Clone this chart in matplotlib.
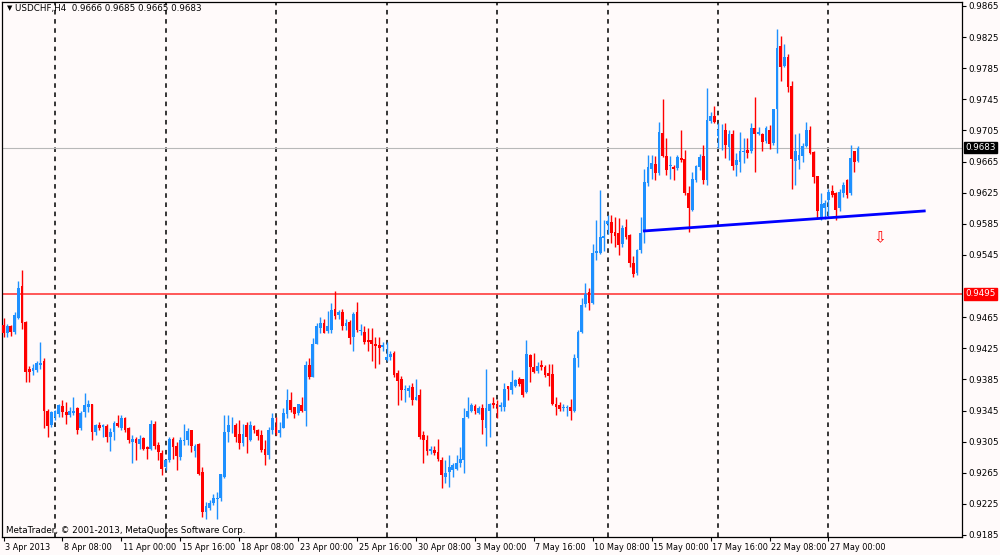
import matplotlib
matplotlib.use("Agg")
import matplotlib.pyplot as plt
import matplotlib.transforms as mtransforms
import numpy as np

# USDCHF H4, precios en pips (x 0.0001)
apertura = [
    9455, 9445, 9453, 9446, 9464, 9505, 9459, 9398, 9396, 9397, 9404, 9408, 9345, 9326, 9337, 9341,
    9351, 9343, 9339, 9342, 9348, 9322, 9343, 9350, 9353, 9318, 9326, 9324, 9325, 9311, 9317, 9329,
    9322, 9335, 9322, 9305, 9309, 9302, 9310, 9298, 9296, 9328, 9301, 9290, 9272, 9281, 9308, 9300,
    9285, 9306, 9307, 9320, 9293, 9302, 9266, 9215, 9220, 9226, 9231, 9232, 9259, 9318, 9326, 9327,
    9315, 9303, 9327, 9307, 9325, 9320, 9313, 9295, 9288, 9320, 9324, 9316, 9322, 9341, 9359, 9349,
    9342, 9352, 9345, 9403, 9388, 9431, 9451, 9457, 9447, 9449, 9475, 9468, 9472, 9453, 9459, 9440,
    9471, 9447, 9446, 9436, 9435, 9430, 9429, 9427, 9410, 9414, 9419, 9393, 9386, 9371, 9370, 9375,
    9359, 9365, 9313, 9307, 9293, 9294, 9292, 9282, 9259, 9266, 9268, 9270, 9277, 9282, 9337, 9345,
    9351, 9342, 9348, 9322, 9345, 9355, 9352, 9350, 9350, 9376, 9371, 9377, 9385, 9385, 9369, 9416,
    9401, 9396, 9404, 9401, 9393, 9392, 9353, 9352, 9348, 9348, 9350, 9345, 9412, 9446, 9482, 9497,
    9483, 9547, 9548, 9567, 9585, 9587, 9575, 9573, 9559, 9581, 9570, 9535, 9522, 9551, 9575, 9637,
    9656, 9662, 9650, 9702, 9672, 9659, 9658, 9657, 9670, 9668, 9624, 9603, 9641, 9658, 9672, 9641,
    9717, 9724, 9698, 9705, 9706, 9684, 9701, 9661, 9665, 9677, 9680, 9678, 9708, 9701, 9701, 9692,
    9706, 9689, 9732, 9813, 9788, 9800, 9762, 9666, 9667, 9672, 9685, 9705, 9677, 9647, 9594, 9605,
    9615, 9627, 9625, 9605, 9625, 9641, 9624, 9679, 9666,
]
maximo = [
    9464, 9456, 9455, 9472, 9511, 9526, 9460, 9402, 9405, 9408, 9433, 9412, 9347, 9345, 9346, 9354,
    9358, 9356, 9350, 9363, 9350, 9345, 9367, 9358, 9354, 9328, 9330, 9328, 9328, 9322, 9332, 9339,
    9339, 9337, 9324, 9313, 9311, 9313, 9311, 9300, 9333, 9331, 9305, 9294, 9283, 9311, 9311, 9305,
    9311, 9328, 9322, 9320, 9302, 9303, 9272, 9228, 9230, 9238, 9240, 9264, 9339, 9339, 9337, 9329,
    9333, 9328, 9330, 9331, 9327, 9321, 9320, 9307, 9324, 9342, 9337, 9330, 9348, 9373, 9369, 9350,
    9354, 9363, 9408, 9413, 9438, 9457, 9465, 9463, 9473, 9483, 9499, 9474, 9476, 9463, 9461, 9472,
    9484, 9456, 9454, 9451, 9451, 9440, 9440, 9433, 9433, 9421, 9421, 9397, 9389, 9378, 9378, 9380,
    9385, 9372, 9319, 9313, 9299, 9300, 9309, 9285, 9281, 9288, 9278, 9288, 9298, 9348, 9363, 9355,
    9353, 9351, 9354, 9398, 9355, 9362, 9358, 9356, 9380, 9377, 9397, 9386, 9388, 9386, 9435, 9418,
    9419, 9407, 9410, 9403, 9405, 9405, 9362, 9356, 9354, 9352, 9360, 9418, 9448, 9489, 9509, 9502,
    9559, 9590, 9629, 9590, 9596, 9596, 9594, 9592, 9583, 9591, 9572, 9543, 9553, 9594, 9656, 9673,
    9673, 9672, 9716, 9746, 9695, 9672, 9661, 9673, 9706, 9680, 9633, 9652, 9661, 9675, 9686, 9759,
    9729, 9736, 9715, 9713, 9715, 9705, 9706, 9676, 9703, 9695, 9695, 9714, 9748, 9710, 9702, 9711,
    9712, 9733, 9836, 9826, 9816, 9803, 9769, 9701, 9702, 9689, 9716, 9711, 9679, 9647, 9624, 9615,
    9630, 9635, 9626, 9630, 9639, 9643, 9686, 9679, 9685,
]
minimo = [
    9439, 9440, 9441, 9443, 9462, 9450, 9381, 9382, 9390, 9395, 9398, 9322, 9311, 9324, 9333, 9337,
    9337, 9328, 9337, 9339, 9315, 9320, 9337, 9343, 9307, 9314, 9320, 9311, 9305, 9293, 9307, 9324,
    9320, 9318, 9303, 9277, 9281, 9296, 9294, 9283, 9294, 9296, 9281, 9262, 9268, 9279, 9283, 9268,
    9281, 9301, 9301, 9292, 9285, 9262, 9208, 9206, 9217, 9223, 9206, 9229, 9258, 9305, 9316, 9305,
    9296, 9300, 9290, 9306, 9316, 9307, 9292, 9275, 9283, 9315, 9313, 9311, 9322, 9336, 9343, 9336,
    9339, 9343, 9325, 9386, 9388, 9430, 9444, 9444, 9444, 9444, 9462, 9462, 9448, 9449, 9431, 9421,
    9446, 9442, 9431, 9421, 9408, 9400, 9405, 9421, 9408, 9410, 9388, 9352, 9358, 9356, 9363, 9352,
    9358, 9309, 9277, 9288, 9289, 9288, 9280, 9245, 9252, 9247, 9260, 9268, 9273, 9265, 9336, 9343,
    9341, 9340, 9315, 9300, 9311, 9348, 9336, 9345, 9345, 9358, 9366, 9375, 9376, 9363, 9367, 9382,
    9393, 9393, 9397, 9388, 9377, 9352, 9339, 9345, 9345, 9338, 9333, 9343, 9401, 9444, 9478, 9474,
    9482, 9538, 9546, 9550, 9572, 9560, 9555, 9545, 9555, 9565, 9530, 9517, 9519, 9547, 9560, 9633,
    9643, 9641, 9648, 9671, 9648, 9643, 9641, 9654, 9665, 9622, 9575, 9602, 9639, 9654, 9636, 9635,
    9714, 9714, 9682, 9680, 9669, 9667, 9654, 9646, 9652, 9663, 9669, 9676, 9652, 9699, 9678, 9689,
    9681, 9686, 9676, 9768, 9786, 9755, 9630, 9635, 9656, 9665, 9684, 9675, 9637, 9593, 9590, 9591,
    9592, 9620, 9590, 9602, 9620, 9618, 9622, 9652, 9665,
]
cierre = [
    9445, 9453, 9446, 9468, 9502, 9457, 9395, 9395, 9399, 9406, 9406, 9345, 9325, 9343, 9344, 9352,
    9343, 9339, 9344, 9345, 9320, 9342, 9352, 9353, 9318, 9326, 9322, 9326, 9311, 9317, 9329, 9325,
    9335, 9320, 9307, 9309, 9303, 9309, 9295, 9295, 9328, 9300, 9292, 9270, 9281, 9309, 9298, 9287,
    9307, 9307, 9319, 9300, 9300, 9264, 9215, 9222, 9226, 9232, 9233, 9263, 9318, 9326, 9327, 9311,
    9303, 9315, 9311, 9326, 9320, 9312, 9294, 9288, 9320, 9336, 9316, 9320, 9342, 9359, 9346, 9341,
    9353, 9345, 9403, 9388, 9431, 9453, 9457, 9445, 9453, 9474, 9466, 9472, 9453, 9458, 9438, 9469,
    9448, 9449, 9433, 9433, 9430, 9428, 9425, 9429, 9414, 9418, 9391, 9383, 9371, 9372, 9374, 9358,
    9363, 9311, 9307, 9293, 9295, 9291, 9283, 9262, 9265, 9273, 9275, 9277, 9283, 9336, 9345, 9352,
    9345, 9348, 9333, 9348, 9353, 9352, 9350, 9352, 9373, 9372, 9382, 9384, 9379, 9365, 9418, 9401,
    9395, 9402, 9401, 9390, 9389, 9353, 9350, 9347, 9349, 9350, 9345, 9412, 9446, 9481, 9495, 9483,
    9548, 9550, 9568, 9569, 9588, 9573, 9569, 9558, 9579, 9568, 9535, 9521, 9551, 9573, 9639, 9658,
    9663, 9650, 9703, 9672, 9654, 9660, 9655, 9671, 9667, 9624, 9605, 9643, 9659, 9671, 9641, 9719,
    9724, 9716, 9706, 9706, 9686, 9701, 9659, 9667, 9678, 9679, 9676, 9708, 9700, 9703, 9690, 9708,
    9688, 9732, 9811, 9787, 9800, 9761, 9668, 9679, 9673, 9685, 9706, 9676, 9645, 9602, 9611, 9612,
    9626, 9622, 9603, 9626, 9635, 9622, 9670, 9665, 9683,
]

etiquetas_x = ["3 Apr 2013", "8 Apr 08:00", "11 Apr 00:00", "15 Apr 16:00", "18 Apr 08:00",
               "23 Apr 00:00", "25 Apr 16:00", "30 Apr 08:00", "3 May 00:00", "7 May 16:00",
               "10 May 08:00", "15 May 00:00", "17 May 16:00", "22 May 08:00", "27 May 00:00"]
barras_etiqueta = [0, 16, 32, 48, 64, 80, 96, 112, 128, 144, 160, 176, 192, 208, 224]
separadores = [14, 44, 74, 104, 134, 164, 194, 224]   # lunes 00:00
precios_y = [9865, 9825, 9785, 9745, 9705, 9665, 9625, 9585, 9545, 9465,
             9425, 9385, 9345, 9305, 9265, 9225, 9185]
nivel_rojo = 9495
precio_actual = 9683
tendencia_barras = [174, 250]
tendencia_precios = [9575.8, 9601.5]
flecha = (238, 9567)

o = np.array(apertura) / 10000
h = np.array(maximo) / 10000
l = np.array(minimo) / 10000
c = np.array(cierre) / 10000
x = np.arange(len(o))

azul = "#1e90ff"
rojo = "#ff0000"
fondo = "#fffafa"

fig = plt.figure(figsize=(10, 5.55), dpi=100, facecolor=fondo)
ax = fig.add_axes([0.002, 1 - 537 / 555, 0.960, 535 / 555])
ax.set_facecolor(fondo)

sube = c >= o
colores = np.where(sube, azul, rojo)

# separadores de periodo
for s in separadores:
    ax.axvline(s, color="black", lw=1.1, ls=(0, (3, 3)), zorder=1)

ax.axhline(nivel_rojo / 10000, color="#ff4a4a", lw=1.3, zorder=2)
ax.axhline(precio_actual / 10000, color="#b8b8b8", lw=0.8, zorder=2)

# velas
ax.vlines(x, l, h, colors=colores, lw=1.0, zorder=3)
alto = np.maximum(np.abs(c - o), 0.00008)
ax.bar(x, alto, bottom=np.minimum(o, c), width=0.75, color=colores, lw=0, zorder=4)

# linea de tendencia
ax.plot(tendencia_barras, np.array(tendencia_precios) / 10000, color="#0000ff", lw=2.0, zorder=5)

ax.text(flecha[0], flecha[1] / 10000, "\u21e9", color=rojo, fontsize=11, ha="center", va="center",
        family="DejaVu Sans", zorder=6)

ax.set_xlim(-0.41, 260.25)
ax.set_ylim(0.91824, 0.98701)

ax.yaxis.tick_right()
ax.set_yticks(np.array(precios_y) / 10000)
ax.set_yticklabels(["%.4f" % (p / 10000) for p in precios_y])
ax.set_xticks(barras_etiqueta)
ax.set_xticklabels(etiquetas_x, ha="left")
ax.tick_params(axis="y", direction="out", length=3, width=0.8, labelsize=6.3, colors="black", pad=1.5)
ax.tick_params(axis="x", direction="out", length=3, width=0.8, labelsize=5.9, colors="black", pad=1.5)
desplazar = mtransforms.ScaledTranslation(1.5 / 100, 0, fig.dpi_scale_trans)
for lab in ax.get_xticklabels():
    lab.set_transform(lab.get_transform() + desplazar)
for sp in ax.spines.values():
    sp.set_color("black")
    sp.set_linewidth(0.9)

# cajas de precio en el eje derecho
ax.text(1.003, nivel_rojo / 10000, "%.4f" % (nivel_rojo / 10000), transform=ax.get_yaxis_transform(),
        color="white", fontsize=6.3, va="center", ha="left",
        bbox=dict(boxstyle="square,pad=0.15", fc=rojo, ec=rojo))
ax.text(1.003, precio_actual / 10000, "%.4f" % (precio_actual / 10000), transform=ax.get_yaxis_transform(),
        color="white", fontsize=6.3, va="center", ha="left",
        bbox=dict(boxstyle="square,pad=0.15", fc="black", ec="black"))

fig.text(0.007, 0.985, "\u25bc", fontsize=5, va="center", ha="left")
fig.text(0.015, 0.985, "USDCHF,H4  0.9666 0.9685 0.9665 0.9683", fontsize=6.3, va="center", ha="left")
fig.text(0.006, 0.045, "MetaTrader, \u00a9 2001-2013, MetaQuotes Software Corp.", fontsize=6.3,
         va="center", ha="left")

fig.savefig("out.png", dpi=100, facecolor=fondo)
